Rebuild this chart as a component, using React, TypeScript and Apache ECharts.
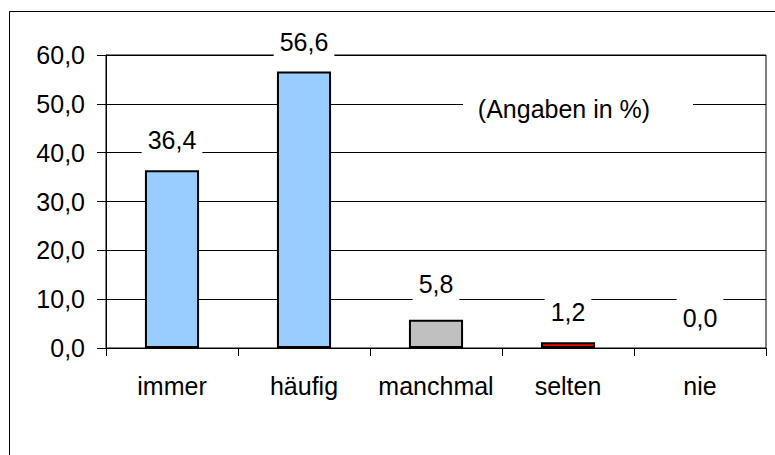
import React, { useEffect, useRef } from "react";
import * as echarts from "echarts";

const categories = ["immer", "häufig", "manchmal", "selten", "nie"];
const values = [36.4, 56.6, 5.8, 1.2, 0.0];
const barColors = ["#99CCFF", "#99CCFF", "#C0C0C0", "#FF0000", "#99CCFF"];
const labelDistances = [8, 8, 14, 8, 8];
const yTicks = { min: 0, max: 60, interval: 10 };
const noteText = "(Angaben in %)";

const FONT = "'Liberation Sans', Arial, sans-serif";
const FS = 25;
const fmt = (v: number) => v.toFixed(1).replace(".", ",");

export default function App() {
  const ref = useRef<HTMLDivElement>(null);
  useEffect(() => {
    if (!ref.current) return;
    const chart = echarts.init(ref.current, null, { renderer: "svg" });
    chart.setOption({
      animation: false,
      backgroundColor: "#fff",
      textStyle: { fontFamily: FONT },
      grid: {
        left: 106,
        right: 9,
        top: 55,
        bottom: 107,
        show: true,
        borderColor: "#000",
        borderWidth: 1,
        backgroundColor: "transparent",
      },
      xAxis: {
        type: "category",
        data: categories,
        boundaryGap: true,
        axisLine: { show: true, lineStyle: { color: "#000", width: 1 } },
        axisTick: { show: true, alignWithLabel: false, interval: 0, length: 8, lineStyle: { color: "#000" } },
        axisLabel: { color: "#000", fontSize: FS, fontFamily: FONT, margin: 25, interval: 0 },
        splitLine: { show: false },
      },
      yAxis: {
        type: "value",
        min: yTicks.min,
        max: yTicks.max,
        interval: yTicks.interval,
        axisLine: { show: true, lineStyle: { color: "#000", width: 1 } },
        axisTick: { show: true, length: 9, lineStyle: { color: "#000" } },
        axisLabel: {
          color: "#000",
          fontSize: FS,
          fontFamily: FONT,
          margin: 21,
          formatter: (v: number) => fmt(v),
        },
        splitLine: { show: true, lineStyle: { color: "#000", width: 1 } },
      },
      series: [
        {
          type: "bar",
          barWidth: "41%",
          z: 3,
          data: values.map((v, i) => ({
            value: v,
            itemStyle: {
              color: barColors[i],
              borderColor: "#000",
              borderWidth: v === 0 ? 0 : 2,
            },
            label: { distance: labelDistances[i] },
          })),
          label: {
            show: true,
            position: "top",
            color: "#000",
            fontSize: FS,
            fontFamily: FONT,
            lineHeight: 24,
            backgroundColor: "#fff",
            padding: [10, 6],
            formatter: (p: any) => fmt(p.value),
          },
        },
      ],
      graphic: [
        {
          type: "rect",
          silent: true,
          z: 10,
          shape: { x: 9.5, y: 11.5, width: 900, height: 600 },
          style: { fill: "none", stroke: "#000", lineWidth: 1 },
        },
        {
          type: "rect",
          z: 5,
          shape: { x: 463, y: 92, width: 230, height: 26 },
          style: { fill: "#fff" },
        },
        {
          type: "text",
          z: 6,
          x: 564,
          y: 109,
          style: {
            text: noteText,
            fontSize: FS,
            fontFamily: FONT,
            fill: "#000",
            align: "center",
            verticalAlign: "middle",
          },
        },
      ],
    });
    return () => chart.dispose();
  }, []);
  return (
    <div
      ref={ref}
      style={{ position: "fixed", left: 0, top: 0, width: 775, height: 455 }}
    />
  );
}
